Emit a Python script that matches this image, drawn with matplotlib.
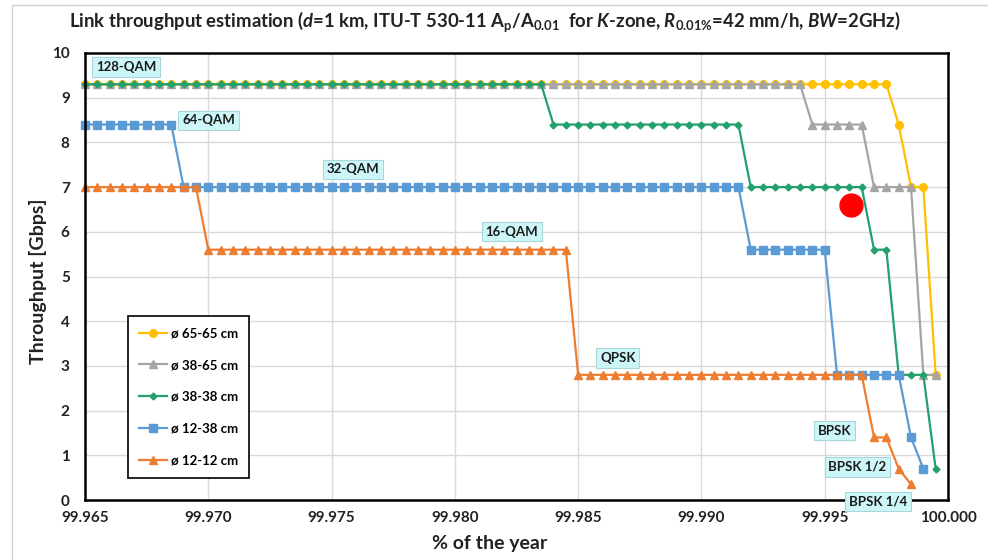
import matplotlib
matplotlib.use("Agg")
import matplotlib.pyplot as plt
from matplotlib.patches import Rectangle
import numpy as np

plt.rcParams['font.family'] = ['Lato', 'DejaVu Sans']
plt.rcParams['font.weight'] = 'bold'
plt.rcParams['mathtext.fontset'] = 'custom'
plt.rcParams['mathtext.rm'] = 'Lato:bold'
plt.rcParams['mathtext.it'] = 'Lato:italic:bold'
plt.rcParams['mathtext.bf'] = 'Lato:bold'

# sampling grid: % of the year, one point every 0.0005 %
pct = np.round(np.arange(99.965, 100.00001, 0.0005), 4)

# throughput [Gbps] per antenna pair
thr_65_65 = [9.3] * 66 + [8.4] + [7.0] * 2 + [2.8]
thr_38_65 = [9.3] * 59 + [8.4] * 5 + [7.0] * 4 + [2.8] * 2
thr_38_38 = [9.3] * 38 + [8.4] * 16 + [7.0] * 10 + [5.6] * 2 + [2.8] * 3 + [0.7]
thr_12_38 = [8.4] * 8 + [7.0] * 46 + [5.6] * 7 + [2.8] * 6 + [1.4] + [0.7]
thr_12_12 = [7.0] * 10 + [5.6] * 30 + [2.8] * 24 + [1.4] * 2 + [0.7] + [0.35]

names = ['ø 65-65 cm', 'ø 38-65 cm', 'ø 38-38 cm', 'ø 12-38 cm', 'ø 12-12 cm']
series = [thr_65_65, thr_38_65, thr_38_38, thr_12_38, thr_12_12]
colors = ['#FFC000', '#A5A5A5', '#23A06B', '#5B9BD5', '#ED7D31']
markers = ['o', '^', 'D', 's', '^']
msizes = [5.5, 6, 3.5, 5.5, 5.5]

# modulation labels
mod_names = ['128-QAM', '64-QAM', '32-QAM', '16-QAM', 'QPSK', 'BPSK', 'BPSK 1/2', 'BPSK 1/4']
mod_x = [99.96666, 99.97001, 99.97587, 99.98232, 99.98661, 99.99539, 99.99633, 99.99716]
mod_y = [9.69, 8.49, 7.40, 6.0, 3.18, 1.55, 0.74, -0.03]

# highlighted operating point
dot_x = [99.99606]
dot_y = [6.6]

fig = plt.figure(figsize=(9.88, 5.60), dpi=100)
ax = fig.add_axes([85 / 988, 1 - 500 / 560, 863 / 988, 447 / 560])

for y, name, c, m, ms in zip(series, names, colors, markers, msizes):
    ax.plot(pct[:len(y)], y, color=c, marker=m, markersize=ms, lw=1.6,
            label=name, clip_on=False, zorder=3)

ax.plot(dot_x, dot_y, 'o', color='#FF0000', markersize=16.5, zorder=5)

for t, x, y in zip(mod_names, mod_x, mod_y):
    ax.text(x, y, t, ha='center', va='center', fontsize=9.5, fontweight='bold',
            color='#1a1a1a', zorder=10, clip_on=False,
            bbox=dict(boxstyle='square,pad=0.28', fc='#CDF6F8', ec='#A9D6DA', lw=0.8))

ax.set_xlim(99.965, 100.0)
ax.set_ylim(0, 10)
ax.set_xticks(np.round(np.arange(99.965, 100.0001, 0.005), 3))
ax.xaxis.set_major_formatter(plt.FormatStrFormatter('%.3f'))
ax.set_yticks(range(0, 11))
ax.tick_params(axis='x', length=0, labelsize=11, pad=8, colors='#222222')
ax.tick_params(axis='y', length=0, labelsize=11, pad=11, colors='#222222')
for lab in ax.get_xticklabels() + ax.get_yticklabels():
    lab.set_fontweight('bold')
ax.grid(True, color='#D9D9D9', lw=1)
ax.set_axisbelow(True)
for s in ax.spines.values():
    s.set_linewidth(1.8)
    s.set_color('black')
    s.set_zorder(4)

ax.set_ylabel('Throughput [Gbps]', fontsize=14, fontweight='bold', color='#222222')
ax.set_xlabel('% of the year', fontsize=14, fontweight='bold', color='#222222')
ax.yaxis.set_label_coords(-0.044, 0.49)
ax.xaxis.set_label_coords(0.469, -0.078)

leg = ax.legend(loc='upper left', bbox_to_anchor=(0.0498, 0.4116), borderaxespad=0,
                fontsize=9.5, labelspacing=1.5, handlelength=2.1, handletextpad=0.3,
                borderpad=0.85, fancybox=False, framealpha=1, edgecolor='black')
leg.get_frame().set_linewidth(1.2)
for t in leg.get_texts():
    t.set_fontweight('bold')

fig.text(485 / 988, 1 - 22 / 560,
         r'Link throughput estimation ($d$=1 km, ITU-T 530-11 A$_\mathrm{p}$/A$_{0.01}$  for $K$-zone, '
         r'$R_{0.01\%}$=42 mm/h, $BW$=2GHz)',
         ha='center', va='center', fontsize=13.3, fontweight='bold', color='#222222')

fig.patches.append(Rectangle((12 / 988, -0.05), 1.2, 1 - 5 / 560 + 0.05,
                             transform=fig.transFigure, fill=False,
                             ec='#D0D0D0', lw=1))

fig.savefig('out.png', dpi=100)
